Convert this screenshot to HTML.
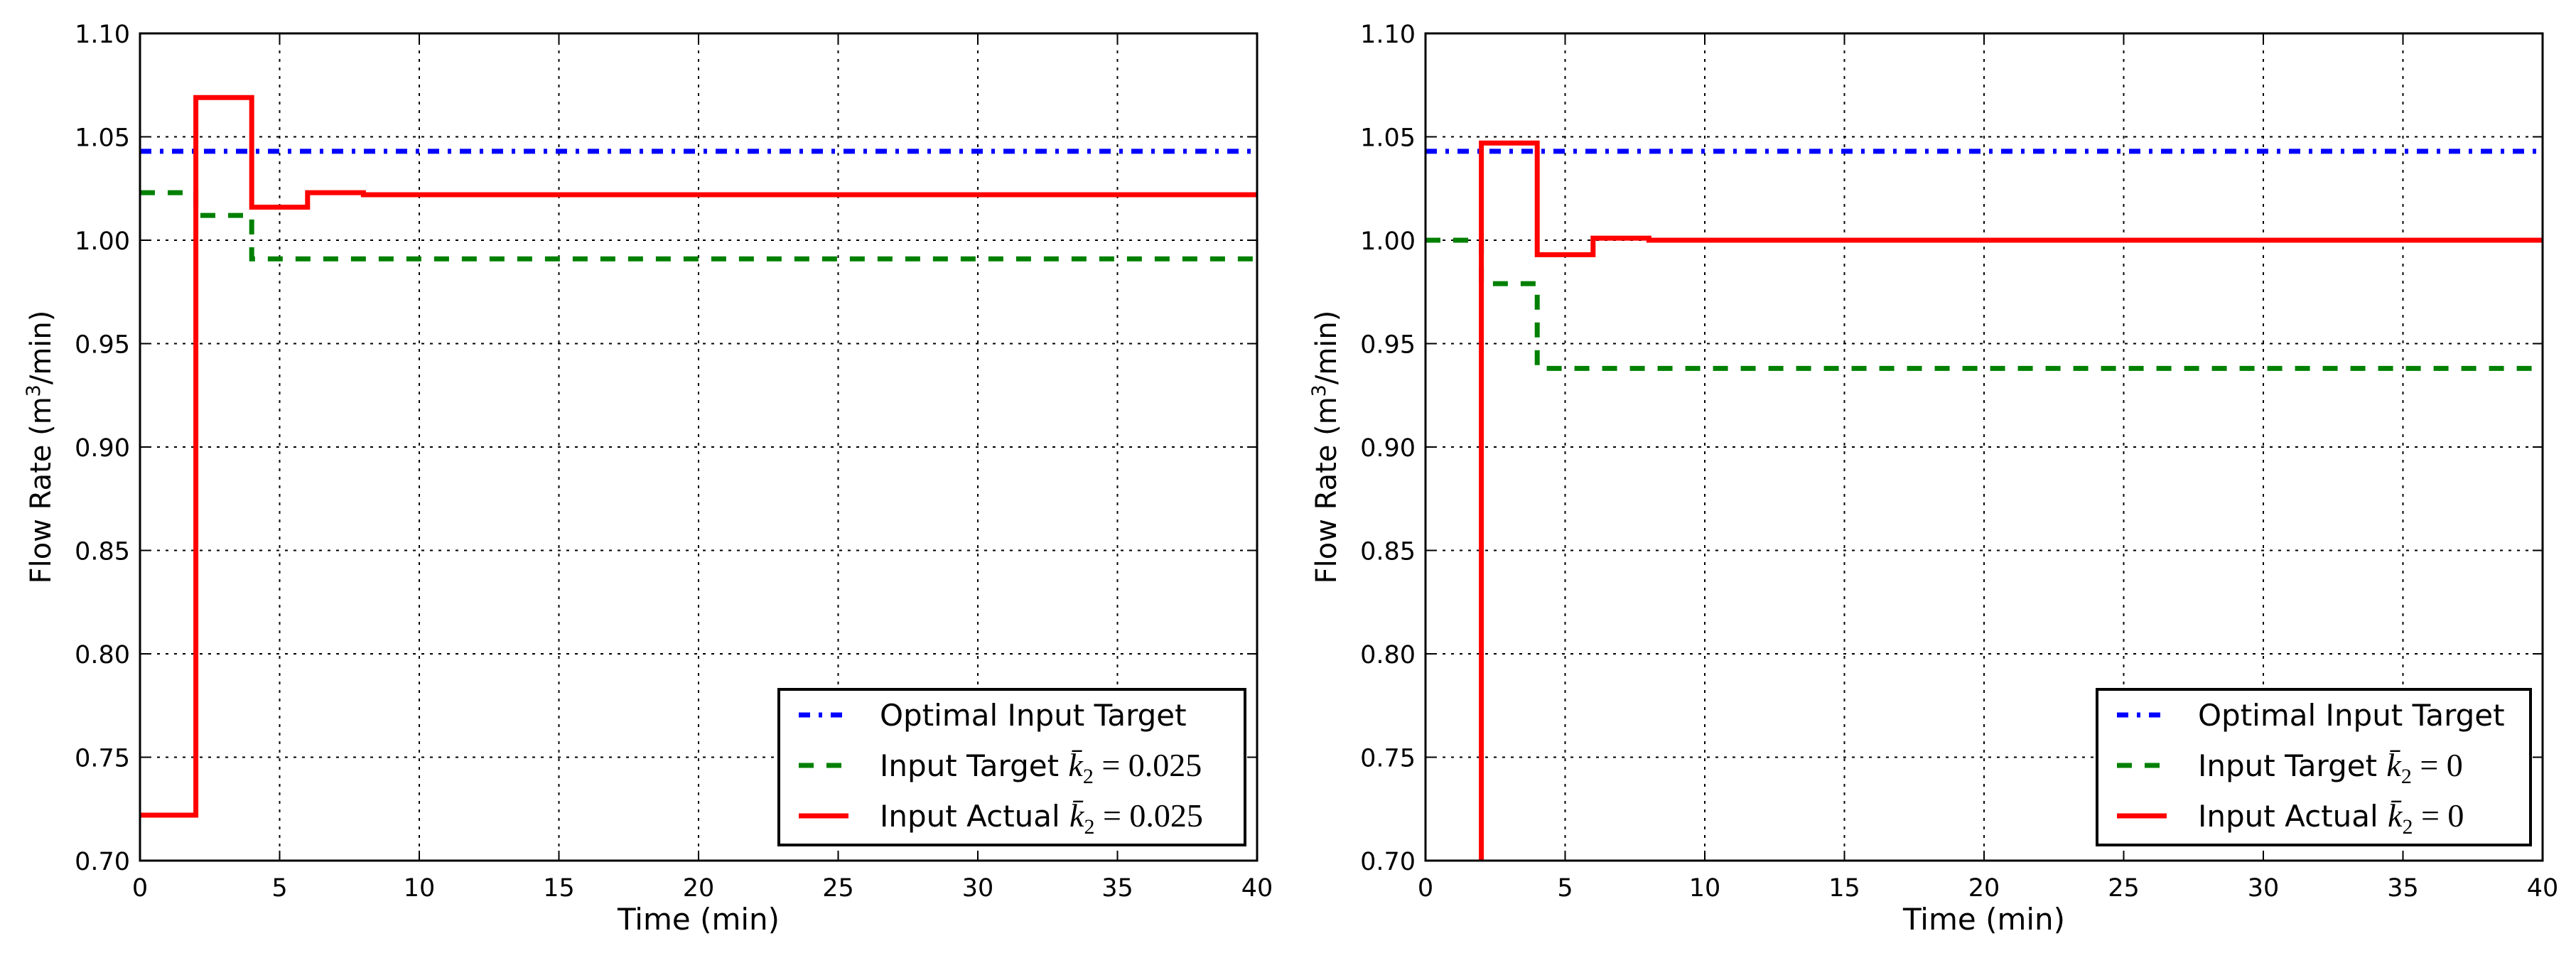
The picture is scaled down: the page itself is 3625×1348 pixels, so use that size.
<!DOCTYPE html>
<html><head><meta charset="utf-8">
<style>
html,body{margin:0;padding:0;background:#fff;overflow:hidden;width:3625px;height:1348px;}
svg{display:block;font-family:"DejaVu Sans","Liberation Sans",sans-serif;}
</style></head>
<body>
<svg id="chart" width="3625" height="1348" viewBox="0 0 3625 1348" xmlns="http://www.w3.org/2000/svg"></svg>
<script>
const xTicks = [0,5,10,15,20,25,30,35,40];
const yTicks = [0.70,0.75,0.80,0.85,0.90,0.95,1.00,1.05,1.10];
const stepTimes = [0,2,4,6,8,40];
const leftOptimal = [1.043,1.043,1.043,1.043,1.043];
const leftTarget = [1.023,1.012,0.991,0.991,0.991];
const leftActual = [0.722,1.069,1.016,1.023,1.022];
const rightOptimal = [1.043,1.043,1.043,1.043,1.043];
const rightTarget = [1.000,0.979,0.938,0.938,0.938];
const rightActual = [0.600,1.047,0.993,1.001,1.000];
const leftLabels = ["Optimal Input Target","Input Target","Input Actual"];
const leftK = "0.025";
const rightK = "0";

const NS="http://www.w3.org/2000/svg";
const svg=document.getElementById('chart');
function mk(tag,attrs,parent){const e=document.createElementNS(NS,tag);for(const k in attrs)e.setAttribute(k,attrs[k]);(parent||svg).appendChild(e);return e;}

const plotTop=47,plotBottom=1211;
function drawPanel(id,x0,x1,opt,tgt,act,kval){
  const g=mk('g',{});
  
  
  const xs=v=>x0+(v-0)/(40-0)*(x1-x0);
  const ys=v=>plotBottom-(v-0.70)/(1.10-0.70)*(plotBottom-plotTop);
  const cp=mk('clipPath',{id:id+'-clip'},g);
  mk('rect',{x:x0,y:plotTop,width:x1-x0,height:plotBottom-plotTop},cp);
  xTicks.forEach(t=>{
    const l=mk('line',{x1:xs(t),x2:xs(t),y1:plotTop,y2:plotBottom,stroke:'#000','stroke-width':2,'stroke-dasharray':'4 8'},g);
    
    
    mk('line',{x1:xs(t),x2:xs(t),y1:plotBottom,y2:plotBottom-14,stroke:'#000','stroke-width':2},g);
    mk('line',{x1:xs(t),x2:xs(t),y1:plotTop,y2:plotTop+14,stroke:'#000','stroke-width':2},g);
    const tx=mk('text',{x:xs(t),y:plotBottom+50,'text-anchor':'middle','font-size':35},g);
    tx.textContent=String(t);
    
    
  });
  yTicks.forEach(t=>{
    const l=mk('line',{x1:x0,x2:x1,y1:ys(t),y2:ys(t),stroke:'#000','stroke-width':2,'stroke-dasharray':'4 8'},g);
    
    
    mk('line',{x1:x0,x2:x0+14,y1:ys(t),y2:ys(t),stroke:'#000','stroke-width':2},g);
    mk('line',{x1:x1,x2:x1-14,y1:ys(t),y2:ys(t),stroke:'#000','stroke-width':2},g);
    const tx=mk('text',{x:x0-14,y:ys(t)+13,'text-anchor':'end','font-size':35},g);
    tx.textContent=t.toFixed(2);
    
    
  });
  function step(vals){
    let d='';
    for(let i=0;i<vals.length;i++){
      const a=xs(stepTimes[i]),b=xs(stepTimes[i+1]),y=ys(vals[i]);
      d+=(i===0?'M':'L')+a+' '+y+' L'+b+' '+y+' ';
    }
    return d;
  }
  const cg=mk('g',{'clip-path':'url(#'+id+'-clip)'},g);
  const p1=mk('path',{d:step(opt),fill:'none',stroke:'#0000ff','stroke-width':7,'stroke-dasharray':'16 12 5 12'},cg);
  
  
  const p2=mk('path',{d:step(tgt),fill:'none',stroke:'#008000','stroke-width':7,'stroke-dasharray':'21 18'},cg);
  
  
  const p3=mk('path',{d:step(act),fill:'none',stroke:'#ff0000','stroke-width':7,'stroke-linejoin':'miter'},cg);
  
  
  const fr=mk('rect',{x:x0,y:plotTop,width:x1-x0,height:plotBottom-plotTop,fill:'none',stroke:'#000','stroke-width':3},g);
  
  
  const xl=mk('text',{x:(x0+x1)/2,y:1308,'text-anchor':'middle','font-size':42},g);
  xl.textContent='Time (min)';
  
  
  const yl=mk('text',{x:0,y:0,'text-anchor':'middle','font-size':40,transform:'translate('+(x0-126)+','+((plotTop+plotBottom)/2)+') rotate(-90)'},g);
  yl.innerHTML='Flow Rate  (m<tspan font-size="27" dy="-15">3</tspan><tspan dy="15">/min)</tspan>';
  
  
  const lx0=x1-673+(id==='right'?46:0), lx1=x1-17, ly0=970, ly1=1189;
  const lg=mk('g',{},g);
  
  
  mk('rect',{x:lx0,y:ly0,width:lx1-lx0,height:ly1-ly0,fill:'#fff',stroke:'#000','stroke-width':4},lg);
  const rows=[['#0000ff','16 12 5 12',leftLabels[0],false],['#008000','21 18',leftLabels[1],true],['#ff0000','',leftLabels[2],true]];
  rows.forEach((r,i)=>{
    const yy=ly0+36+i*71;
    const ln=mk('line',{x1:lx0+28,x2:lx0+98,y1:yy,y2:yy,stroke:r[0],'stroke-width':7},lg);
    if(r[1])ln.setAttribute('stroke-dasharray',r[1]);
    const t=mk('text',{x:lx0+142,y:yy+15,'font-size':42},lg);
    if(r[3]){
      t.innerHTML=r[2]+' <tspan font-family="Liberation Serif, serif" font-style="italic" font-size="46">k̄</tspan><tspan font-family="Liberation Serif, serif" font-size="30" dy="10">2</tspan><tspan font-family="Liberation Serif, serif" font-size="46" dy="-10"> = '+kval+'</tspan>';
    } else t.textContent=r[2];
    
    
  });
}
drawPanel('left',197,1769,leftOptimal,leftTarget,leftActual,leftK);
drawPanel('right',2006,3578,rightOptimal,rightTarget,rightActual,rightK);
</script>
</body></html>
